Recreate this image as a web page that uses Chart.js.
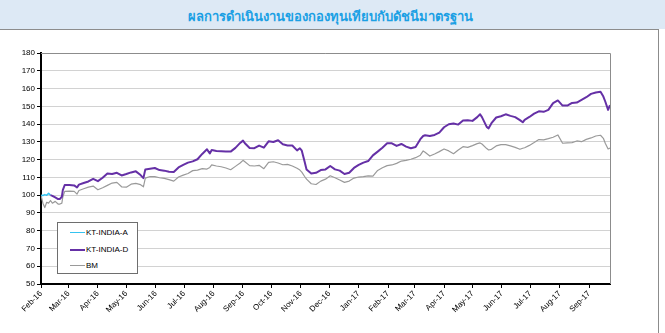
<!DOCTYPE html>
<html>
<head>
<meta charset="utf-8">
<script src="https://cdn.jsdelivr.net/npm/chart.js@4/dist/chart.umd.min.js"></script>
<style>
  html, body { margin: 0; padding: 0; background: #fff; }
  #wrap { position: relative; width: 665px; height: 333px; overflow: hidden; background: #fff; }
  #head { position: absolute; left: 0; top: 0; width: 665px; height: 29px; background: #dde9f5; }
  #head span { position: absolute; left: 0; top: 6px; width: 660px; text-align: center;
               font: bold 13px "Noto Sans", "DejaVu Sans", sans-serif; color: #1ba0e4; }
  #rule { position: absolute; left: 0; top: 29px; width: 659px; height: 1px; background: #8c8c8c; }
  #edge { position: absolute; left: 658px; top: 29px; width: 1px; height: 304px; background: #8c8c8c; }
  #chart { position: absolute; left: 0; top: 0; }
  #legend { position: absolute; left: 57px; top: 222px; width: 79px; height: 50px;
            border: 1.5px solid #6e6e6e; background: #fff; }
  #legend .item { position: absolute; left: 0; height: 12px; width: 79px;
                  font: 8px "Liberation Sans", Arial, sans-serif; color: #000; }
  #legend .swatch { position: absolute; left: 12px; top: 5px; width: 15px; }
  #legend .label { position: absolute; left: 28px; top: 0; line-height: 11px; }
</style>
</head>
<body>
<div id="wrap">
  <div id="head"><span>ผลการดำเนินงานของกองทุนเทียบกับดัชนีมาตรฐาน</span></div>
  <div id="rule"></div>
  <div id="edge"></div>
  <canvas id="chart" width="665" height="333"></canvas>
  <div id="legend"></div>
</div>
<script>
// Days counted from 1 Feb 2016
const days = [
  0, 2, 4, 6, 8, 10, 12, 15, 18, 20,
  22, 23, 25, 30, 35, 38, 40, 45, 50, 55,
  60, 65, 70, 75, 80, 85, 90, 95, 100, 105,
  108, 110, 115, 120, 125, 130, 135, 140, 145, 150,
  155, 160, 165, 170, 175, 178, 180, 185, 190, 195,
  200, 205, 210, 213, 215, 220, 225, 230, 235, 240,
  245, 250, 255, 260, 265, 270, 273, 275, 278, 280,
  285, 290, 295, 300, 305, 310, 315, 320, 325, 330,
  335, 340, 345, 350, 355, 360, 365, 370, 375, 380,
  385, 390, 395, 400, 403, 405, 410, 415, 420, 425,
  430, 435, 440, 445, 450, 455, 460, 463, 465, 470,
  472, 475, 480, 485, 490, 495, 500, 505, 508, 510,
  515, 520, 525, 530, 535, 540, 545, 550, 555, 560,
  565, 570, 575, 580, 585, 590, 593, 595, 598, 600
];

// KT-INDIA-A: first days only
const ktIndiaA = [100.0, 99.8, 100.3, 99.9, 101.0, 100.0];

const ktIndiaD = [
  null, null, null, null, null, 100.0, 99.6, 98.7, 97.8, 97.9,
  99.1, 102.8, 105.7, 105.7, 105.5, 104.3, 105.9, 106.8, 107.7, 109.2,
  107.9, 109.8, 112.2, 111.9, 112.6, 111.1, 111.9, 112.8, 113.4, 111.3,
  109.6, 114.5, 114.9, 115.3, 114.1, 113.8, 113.2, 113.0, 115.6, 117.0,
  118.3, 119.0, 120.2, 123.2, 125.8, 123.5, 125.4, 124.9, 124.7, 124.5,
  124.5, 126.6, 129.4, 130.7, 129.2, 126.5, 126.4, 127.9, 126.7, 130.3,
  129.9, 130.9, 128.6, 127.9, 127.9, 125.2, 126.4, 125.0, 118.8, 114.5,
  112.2, 112.6, 114.1, 114.5, 116.4, 114.5, 113.8, 111.9, 112.6, 115.3,
  117.0, 118.3, 119.2, 122.4, 124.5, 126.7, 129.2, 129.2, 127.7, 128.8,
  127.3, 126.4, 127.1, 131.5, 133.3, 133.7, 133.3, 133.9, 135.2, 138.2,
  139.9, 140.3, 139.7, 142.0, 142.2, 141.8, 143.9, 145.5, 143.9, 138.4,
  137.6, 140.5, 143.7, 144.4, 145.5, 144.6, 143.9, 142.2, 141.0, 142.4,
  144.0, 145.9, 147.2, 146.9, 148.0, 151.8, 153.3, 150.4, 150.4, 151.9,
  152.1, 153.6, 155.1, 157.0, 157.8, 158.2, 155.5, 152.7, 148.0, 150.6
];

const bm = [
  100.0, 95.5, 93.0, 96.0, 95.5, 97.0, 95.5, 96.5, 95.0, 95.0,
  95.5, 99.0, 102.1, 102.3, 102.1, 100.6, 102.6, 103.6, 104.5, 105.1,
  103.0, 104.2, 105.5, 106.8, 107.2, 104.7, 104.5, 106.2, 106.6, 105.9,
  104.7, 109.6, 110.5, 110.4, 109.8, 109.4, 108.7, 107.9, 110.2, 111.3,
  112.2, 113.8, 114.1, 114.9, 114.7, 115.6, 117.0, 116.4, 116.0, 115.3,
  114.3, 116.2, 118.1, 119.6, 118.8, 116.6, 116.4, 116.8, 114.9, 118.5,
  118.8, 118.1, 117.1, 117.3, 116.4, 115.1, 114.1, 113.0, 110.5, 109.0,
  106.4, 106.0, 107.9, 109.0, 110.9, 109.8, 108.5, 107.2, 107.9, 109.6,
  110.2, 110.4, 110.9, 110.7, 113.9, 115.4, 116.6, 117.0, 117.9, 119.2,
  119.6, 120.2, 121.1, 122.5, 124.9, 124.1, 122.0, 123.2, 124.5, 126.0,
  124.9, 123.3, 125.4, 127.3, 126.9, 127.9, 129.0, 129.4, 128.8, 126.2,
  125.4, 125.8, 127.7, 128.4, 128.4, 127.7, 126.9, 125.8, 126.4, 126.7,
  128.0, 129.6, 131.3, 131.1, 131.8, 132.6, 133.9, 129.2, 129.4, 129.6,
  130.5, 130.1, 131.4, 132.2, 133.3, 133.7, 132.0, 129.2, 126.0, 126.5
];

// Month ticks (day offsets) and their labels
const monthStarts = [0, 29, 60, 90, 121, 151, 182, 213, 243, 274, 304, 335, 366, 394, 425, 455, 486, 516, 547, 578];
const monthLabels = ['Feb-16', 'Mar-16', 'Apr-16', 'May-16', 'Jun-16', 'Jul-16', 'Aug-16', 'Sep-16', 'Oct-16', 'Nov-16',
                     'Dec-16', 'Jan-17', 'Feb-17', 'Mar-17', 'Apr-17', 'May-17', 'Jun-17', 'Jul-17', 'Aug-17', 'Sep-17'];

const seriesNames = ['KT-INDIA-A', 'KT-INDIA-D', 'BM'];

const toPoints = (vals) => vals.map((v, i) => ({ x: days[i], y: v }));

const AXIS_FONT = { family: '"Liberation Sans", Arial, sans-serif', size: 8 };

// Plot-area frame on the top and right sides
const frame = {
  id: 'frame',
  afterDatasetsDraw(chart) {
    const { ctx, chartArea: a } = chart;
    ctx.save();
    ctx.strokeStyle = '#8c8c8c';
    ctx.lineWidth = 1;
    ctx.beginPath();
    ctx.moveTo(a.left, a.top + 0.5);
    ctx.lineTo(a.right + 0.5, a.top + 0.5);
    ctx.lineTo(a.right + 0.5, a.bottom);
    ctx.stroke();
    ctx.restore();
  }
};

const chart = new Chart(document.getElementById('chart'), {
  type: 'line',
  data: {
    datasets: [
      { label: seriesNames[0], data: toPoints(ktIndiaA), borderColor: '#35c3f0', borderWidth: 1.5, order: 1 },
      { label: seriesNames[1], data: toPoints(ktIndiaD), borderColor: '#6530a6', borderWidth: 2, order: 0 },
      { label: seriesNames[2], data: toPoints(bm), borderColor: '#9a9a9a', borderWidth: 1.2, order: 2 }
    ]
  },
  options: {
    responsive: false,
    animation: false,
    devicePixelRatio: 1,
    layout: { padding: { left: 0, top: 53, right: 55, bottom: 0 } },
    elements: { point: { radius: 0 }, line: { tension: 0, borderJoinStyle: 'round' } },
    plugins: { legend: { display: false }, tooltip: { enabled: false }, title: { display: false } },
    scales: {
      x: {
        type: 'linear',
        min: 0,
        max: 600,
        afterBuildTicks: (scale) => { scale.ticks = monthStarts.map(v => ({ value: v })); },
        afterFit: (scale) => { scale.height = 49; },
        ticks: {
          autoSkip: false,
          maxRotation: 45,
          minRotation: 45,
          padding: 1,
          color: '#000',
          font: AXIS_FONT,
          callback: (value) => monthLabels[monthStarts.indexOf(value)]
        },
        grid: { drawOnChartArea: false, drawTicks: true, tickLength: 4, tickColor: '#000', tickWidth: 1 },
        border: { color: '#000', width: 2 }
      },
      y: {
        min: 50,
        max: 180,
        afterFit: (scale) => { scale.width = 41; },
        ticks: { stepSize: 10, padding: 2, color: '#000', font: AXIS_FONT },
        grid: {
          color: '#d2d2d2',
          lineWidth: 1,
          drawTicks: true,
          tickLength: 4,
          tickColor: '#000'
        },
        border: { color: '#000', width: 2 }
      }
    }
  },
  plugins: [frame]
});

// Legend box built from the chart's datasets
const legend = document.getElementById('legend');
chart.data.datasets.forEach((ds, i) => {
  const item = document.createElement('div');
  item.className = 'item';
  item.style.top = (4 + i * 16.5) + 'px';
  const sw = document.createElement('div');
  sw.className = 'swatch';
  sw.style.borderTop = ds.borderWidth + 'px solid ' + ds.borderColor;
  const lb = document.createElement('div');
  lb.className = 'label';
  lb.textContent = ds.label;
  item.appendChild(sw);
  item.appendChild(lb);
  legend.appendChild(item);
});
</script>
</body>
</html>
